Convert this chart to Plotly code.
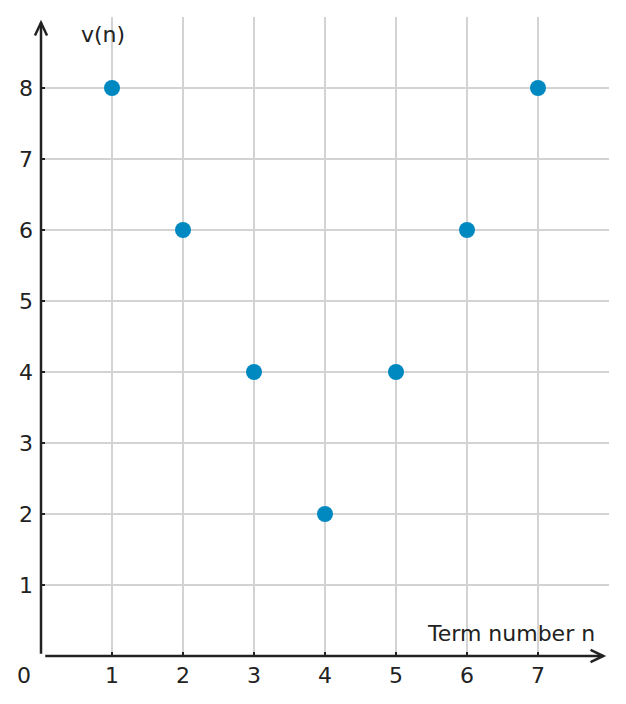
import plotly.graph_objects as go

n = [1, 2, 3, 4, 5, 6, 7]
v = [8, 6, 4, 2, 4, 6, 8]
x_ticks = [1, 2, 3, 4, 5, 6, 7]
y_ticks = [1, 2, 3, 4, 5, 6, 7, 8]

FONT = "DejaVu Sans"
AXIS = "#222222"
X_MAX, Y_MAX = 8, 9


def px_(xv):
    return xv / X_MAX


def py_(yv):
    return yv / Y_MAX


fig = go.Figure()
fig.add_trace(go.Scatter(x=n, y=v, mode="markers",
                         marker=dict(size=16, color="#0088c0"),
                         cliponaxis=False, hoverinfo="x+y"))

# axis lines with open arrow heads (paper refs so they are not clipped)
line = dict(color=AXIS, width=2.5)
fig.add_shape(type="line", xref="paper", yref="paper",
              x0=px_(0.06), y0=0, x1=px_(7.92), y1=0, line=line)
fig.add_shape(type="line", xref="paper", yref="paper",
              x0=0, y0=py_(0.03), x1=0, y1=py_(8.92), line=line)
fig.add_shape(type="path", xref="paper", yref="paper",
              path=f"M {px_(7.74)} {py_(0.085)} L {px_(7.92)} 0 L {px_(7.74)} {py_(-0.085)}",
              line=line)
fig.add_shape(type="path", xref="paper", yref="paper",
              path=f"M {px_(-0.085)} {py_(8.74)} L 0 {py_(8.92)} L {px_(0.085)} {py_(8.74)}",
              line=line)

fig.add_annotation(x=0.87, y=8.75, text="v(n)", showarrow=False,
                   font=dict(size=22, color=AXIS))
fig.add_annotation(x=7.83, y=0.31, text="Term number n", showarrow=False,
                   xanchor="right", font=dict(size=22, color=AXIS))
fig.add_annotation(xref="paper", yref="paper", x=px_(-0.24), y=py_(-0.27),
                   xanchor="center", yanchor="middle",
                   text="0", showarrow=False, font=dict(size=22, color=AXIS))

common = dict(showgrid=True, gridcolor="#d3d3d3", gridwidth=1.5,
              zeroline=False, showline=False, ticks="inside", ticklen=4,
              tickwidth=2, tickcolor=AXIS, automargin=False,
              tickfont=dict(size=22, color=AXIS))
fig.update_xaxes(range=[0, X_MAX], tickvals=x_ticks, ticklabelstandoff=4,
                 **common)
fig.update_yaxes(range=[0, Y_MAX], tickvals=y_ticks, ticklabelstandoff=7,
                 **common)

# page body adds an 8px offset, so margins are shifted to compensate
fig.update_layout(width=626, height=704, showlegend=False,
                  margin=dict(l=33, r=25, t=9, b=56),
                  plot_bgcolor="white", paper_bgcolor="white",
                  font=dict(family=FONT, color=AXIS))

fig.write_html("out.html")
